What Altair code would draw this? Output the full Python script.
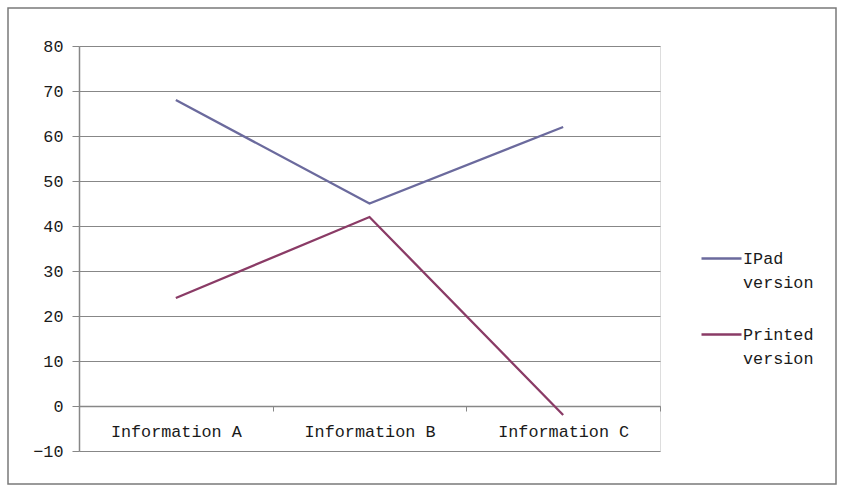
import altair as alt
import pandas as pd

categories = ["Information A", "Information B", "Information C"]
series_names = ["IPad version", "Printed version"]
ipad_values = [68, 45, 62]
printed_values = [24, 42, -2]
y_ticks = [-10, 0, 10, 20, 30, 40, 50, 60, 70, 80]
colors = ["#6B6A9D", "#8A3B66"]

rows = []
for c, v in zip(categories, ipad_values):
    rows.append({"category": c, "value": v, "series": series_names[0]})
for c, v in zip(categories, printed_values):
    rows.append({"category": c, "value": v, "series": series_names[1]})
df = pd.DataFrame(rows)

FONT = "Liberation Mono"
GRID = "#878787"
FS = 16.8

lines = alt.Chart(df).mark_line(strokeWidth=2.3, clip=False).encode(
    x=alt.X(
        "category:N",
        sort=categories,
        bandPosition=0.5,
        scale=alt.Scale(type="band", paddingInner=0, paddingOuter=0),
        axis=alt.Axis(
            title=None,
            orient="bottom",
            offset=-45,
            labelAngle=0,
            domain=True,
            domainColor=GRID,
            domainWidth=1.5,
            ticks=True,
            tickBand="extent",
            tickColor=GRID,
            tickSize=5,
            labelPadding=12,
            labelFontSize=FS,
            labelColor="#1a1a1a",
            labelFont=FONT,
            grid=False,
        ),
    ),
    y=alt.Y(
        "value:Q",
        scale=alt.Scale(domain=[-10, 80], nice=False, zero=False),
        axis=alt.Axis(
            title=None,
            values=y_ticks,
            domain=True,
            domainColor=GRID,
            domainWidth=1.5,
            ticks=True,
            tickColor=GRID,
            tickSize=7,
            labelPadding=9,
            labelFontSize=FS,
            labelColor="#1a1a1a",
            labelFont=FONT,
            grid=True,
            gridColor=GRID,
            gridWidth=1.2,
        ),
    ),
    color=alt.Color(
        "series:N",
        scale=alt.Scale(domain=series_names, range=colors),
        legend=alt.Legend(
            title=None,
            orient="none",
            legendX=621,
            legendY=191,
            symbolType="stroke",
            symbolSize=1600,
            symbolStrokeWidth=2.5,
            labelFont=FONT,
            labelFontSize=FS,
            labelColor="#1a1a1a",
            labelExpr="split(datum.label, ' ')",
            labelOffset=0,
            labelBaseline="middle",
            rowPadding=21,
            labelLimit=200,
        ),
    ),
)

border = alt.Chart(alt.Data(values=[{"a": 1}])).mark_rect(
    filled=False, stroke="#7a7a7a", strokeWidth=1.5, clip=False
).encode(
    x=alt.value(-71), x2=alt.value(757), y=alt.value(-38), y2=alt.value(438)
)

chart = (
    alt.layer(border, lines)
    .properties(
        width=581,
        height=405,
        autosize=alt.AutoSizeParams(type="none"),
        padding={"left": 79, "top": 46, "right": 188, "bottom": 39},
        background="white",
    )
    .configure_view(stroke=None)
    .configure(font=FONT, style={"guide-label": {"lineHeight": 24}})
)

chart.save("out.html", embed_options={"renderer": "svg", "actions": False})
